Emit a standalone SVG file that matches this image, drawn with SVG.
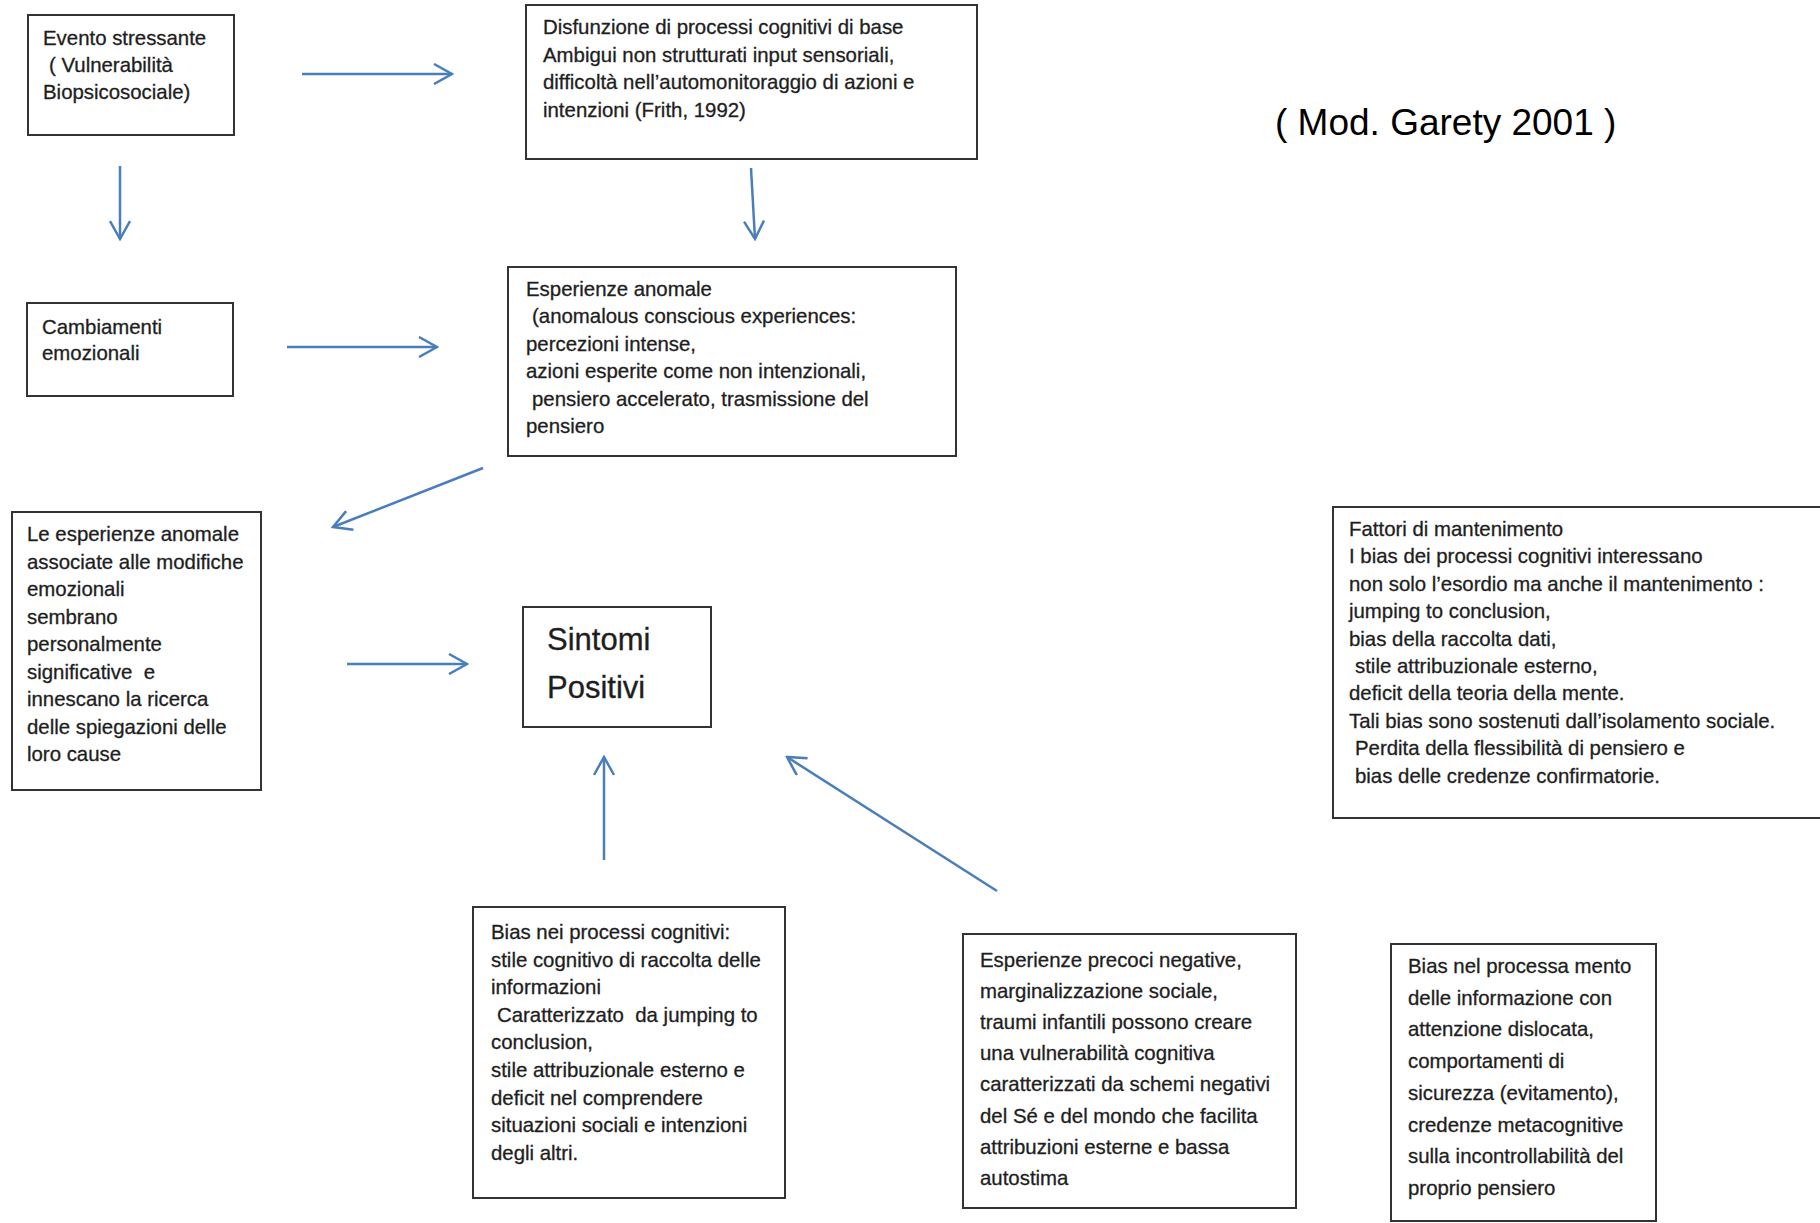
<svg xmlns="http://www.w3.org/2000/svg" width="1820" height="1223" viewBox="0 0 1820 1223">
<style>
  .box { fill: #ffffff; stroke: #333333; stroke-width: 2; }
  .t { font-family: "Liberation Sans", Arial, sans-serif; font-size: 20.4px; fill: #1e1e1e; stroke: #1e1e1e; stroke-width: 0.3; }
  .big { font-family: "Liberation Sans", Arial, sans-serif; font-size: 31px; fill: #1e1e1e; stroke: #1e1e1e; stroke-width: 0.3; }
  .title { font-family: "Liberation Sans", Arial, sans-serif; font-size: 37px; fill: #000000; }
  .conn { stroke: #4a7ebb; stroke-width: 2.5; fill: none; }
</style>
<defs>
  <marker id="arr" viewBox="0 0 22 22" refX="20" refY="11" markerWidth="22" markerHeight="22" markerUnits="userSpaceOnUse" orient="auto">
    <path d="M2,1 L20,11 L2,21" fill="none" stroke="#4a7ebb" stroke-width="2.5"/>
  </marker>
</defs>
<rect width="1820" height="1223" fill="#ffffff"/>

<text class="title" x="1275" y="135">( Mod. Garety 2001 )</text>

<g id="connectors">
  <line class="conn" x1="302" y1="74" x2="452" y2="74" marker-end="url(#arr)"/>
  <line class="conn" x1="120" y1="166" x2="120" y2="239" marker-end="url(#arr)"/>
  <line class="conn" x1="751" y1="168" x2="755" y2="239" marker-end="url(#arr)"/>
  <line class="conn" x1="287" y1="347" x2="437" y2="347" marker-end="url(#arr)"/>
  <line class="conn" x1="483" y1="468" x2="333" y2="527" marker-end="url(#arr)"/>
  <line class="conn" x1="347" y1="664" x2="467" y2="664" marker-end="url(#arr)"/>
  <line class="conn" x1="604" y1="860" x2="604" y2="757" marker-end="url(#arr)"/>
  <line class="conn" x1="997" y1="891" x2="787" y2="757" marker-end="url(#arr)"/>
</g>

<g id="evento">
  <rect class="box" x="28" y="15" width="206" height="120"/>
  <text class="t" x="43" y="45">Evento stressante</text>
  <text class="t" x="49" y="72">( Vulnerabilità</text>
  <text class="t" x="43" y="99">Biopsicosociale)</text>
</g>

<g id="cambiamenti">
  <rect class="box" x="27" y="303" width="206" height="93"/>
  <text class="t" x="42" y="334">Cambiamenti</text>
  <text class="t" x="42" y="360">emozionali</text>
</g>

<g id="disfunzione">
  <rect class="box" x="526" y="5" width="451" height="154"/>
  <text class="t" x="543" y="34">Disfunzione di processi cognitivi di base</text>
  <text class="t" x="543" y="62">Ambigui non strutturati input sensoriali,</text>
  <text class="t" x="543" y="89">difficoltà nell’automonitoraggio di azioni e</text>
  <text class="t" x="543" y="117">intenzioni (Frith, 1992)</text>
</g>

<g id="esperienze-anomale">
  <rect class="box" x="508" y="267" width="448" height="189"/>
  <text class="t" x="526" y="296">Esperienze anomale</text>
  <text class="t" x="532" y="323">(anomalous conscious experiences:</text>
  <text class="t" x="526" y="351">percezioni intense,</text>
  <text class="t" x="526" y="378">azioni esperite come non intenzionali,</text>
  <text class="t" x="532" y="406">pensiero accelerato, trasmissione del</text>
  <text class="t" x="526" y="433">pensiero</text>
</g>

<g id="le-esperienze">
  <rect class="box" x="12" y="512" width="249" height="278"/>
  <text class="t" x="27" y="541">Le esperienze anomale</text>
  <text class="t" x="27" y="568.5">associate alle modifiche</text>
  <text class="t" x="27" y="596">emozionali</text>
  <text class="t" x="27" y="623.5">sembrano</text>
  <text class="t" x="27" y="651">personalmente</text>
  <text class="t" x="27" y="678.5" xml:space="preserve">significative  e</text>
  <text class="t" x="27" y="706">innescano la ricerca</text>
  <text class="t" x="27" y="733.5">delle spiegazioni delle</text>
  <text class="t" x="27" y="761">loro cause</text>
</g>

<g id="sintomi">
  <rect class="box" x="523" y="607" width="188" height="120"/>
  <text class="big" x="547" y="650">Sintomi</text>
  <text class="big" x="547" y="698">Positivi</text>
</g>

<g id="fattori">
  <rect class="box" x="1333" y="507" width="500" height="311"/>
  <text class="t" x="1349" y="536">Fattori di mantenimento</text>
  <text class="t" x="1349" y="563.4">I bias dei processi cognitivi interessano</text>
  <text class="t" x="1349" y="590.8">non solo l’esordio ma anche il mantenimento :</text>
  <text class="t" x="1349" y="618.2">jumping to conclusion,</text>
  <text class="t" x="1349" y="645.6">bias della raccolta dati,</text>
  <text class="t" x="1355" y="673">stile attribuzionale esterno,</text>
  <text class="t" x="1349" y="700.4">deficit della teoria della mente.</text>
  <text class="t" x="1349" y="727.8">Tali bias sono sostenuti dall’isolamento sociale.</text>
  <text class="t" x="1355" y="755.2">Perdita della flessibilità di pensiero e</text>
  <text class="t" x="1355" y="782.6">bias delle credenze confirmatorie.</text>
</g>

<g id="bias-processi">
  <rect class="box" x="473" y="907" width="312" height="291"/>
  <text class="t" x="491" y="939">Bias nei processi cognitivi:</text>
  <text class="t" x="491" y="966.6">stile cognitivo di raccolta delle</text>
  <text class="t" x="491" y="994.2">informazioni</text>
  <text class="t" x="497" y="1021.8" xml:space="preserve">Caratterizzato  da jumping to</text>
  <text class="t" x="491" y="1049.4">conclusion,</text>
  <text class="t" x="491" y="1077">stile attribuzionale esterno e</text>
  <text class="t" x="491" y="1104.6">deficit nel comprendere</text>
  <text class="t" x="491" y="1132.2">situazioni sociali e intenzioni</text>
  <text class="t" x="491" y="1159.8">degli altri.</text>
</g>

<g id="esperienze-precoci">
  <rect class="box" x="963" y="934" width="333" height="274"/>
  <text class="t" x="980" y="967">Esperienze precoci negative,</text>
  <text class="t" x="980" y="998.1">marginalizzazione sociale,</text>
  <text class="t" x="980" y="1029.2">traumi infantili possono creare</text>
  <text class="t" x="980" y="1060.3">una vulnerabilità cognitiva</text>
  <text class="t" x="980" y="1091.4">caratterizzati da schemi negativi</text>
  <text class="t" x="980" y="1122.5">del Sé e del mondo che facilita</text>
  <text class="t" x="980" y="1153.6">attribuzioni esterne e bassa</text>
  <text class="t" x="980" y="1184.7">autostima</text>
</g>

<g id="bias-processamento">
  <rect class="box" x="1391" y="944" width="265" height="277"/>
  <text class="t" x="1408" y="973">Bias nel processa mento</text>
  <text class="t" x="1408" y="1004.7">delle informazione con</text>
  <text class="t" x="1408" y="1036.4">attenzione dislocata,</text>
  <text class="t" x="1408" y="1068.1">comportamenti di</text>
  <text class="t" x="1408" y="1099.8">sicurezza (evitamento),</text>
  <text class="t" x="1408" y="1131.5">credenze metacognitive</text>
  <text class="t" x="1408" y="1163.2">sulla incontrollabilità del</text>
  <text class="t" x="1408" y="1194.9">proprio pensiero</text>
</g>
</svg>
